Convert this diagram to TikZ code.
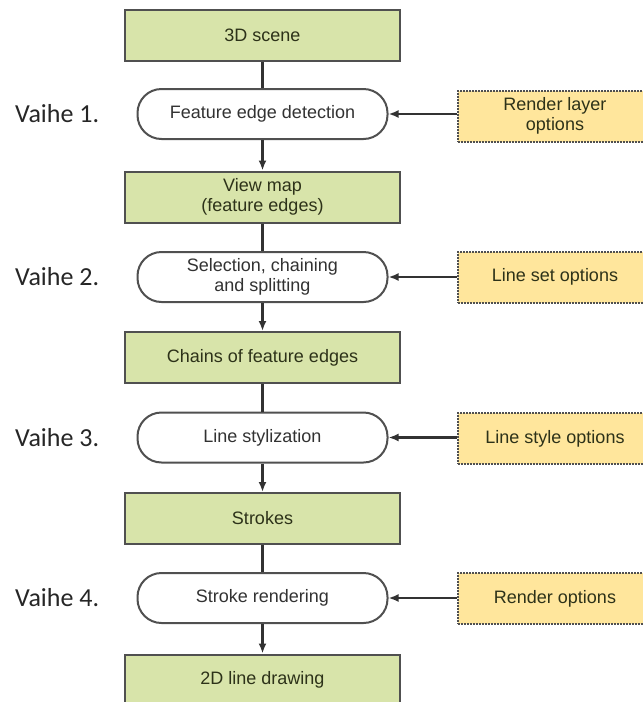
\documentclass[tikz,border=0pt]{standalone}
\usepackage{fontspec}
\setmainfont{Liberation Sans}
\newfontfamily\vaihefont{Carlito}
\usetikzlibrary{arrows.meta}
\tikzset{>={Latex[length=10pt,width=8pt]}}
\definecolor{mygreen}{RGB}{216,228,170}
\definecolor{myyellow}{RGB}{255,230,156}
\definecolor{mygray1}{RGB}{80,80,80}
\definecolor{mygray2}{RGB}{50,50,50}
\definecolor{mytext}{RGB}{45,50,25}
\tikzset{
  databox/.style = {draw=mygray1, line width=2pt, fill=mygreen, minimum width=275, minimum height=51,
                    align=center, text=mytext, font=\fontsize{18}{20}\selectfont},
  phase/.style   = {draw=mygray1, line width=2pt, fill=white, rounded corners=24, minimum width=250,
                    minimum height=50, align=center, text=mygray2, font=\fontsize{18}{20}\selectfont},
  optbox/.style  = {draw=mygray1, densely dotted, line width=2pt, fill=myyellow, minimum width=194,
                    minimum height=51, align=center, text=mytext, font=\fontsize{18}{20}\selectfont},
  vaihe/.style   = {anchor=west, inner sep=0pt, text=black!85, font=\vaihefont\fontsize{26}{28}\selectfont},
  flow/.style    = {draw=mygray2, line width=2.4pt}
}
\begin{document}
\begin{tikzpicture}[x=1pt, y=-1pt]

\useasboundingbox (0,0) rectangle (643,702);
\clip (0,0) rectangle (643,702);

% main column
\node[databox] (scene)    at (262.5, 35.5)  {3D scene};
\node[phase]   (detect)   at (262.5, 114)   {Feature edge detection};
\node[databox] (viewmap)  at (262.5, 197)   {View map\\(feature edges)};
\node[phase]   (chaining) at (262.5, 277)   {Selection, chaining\\and splitting};
\node[databox] (chains)   at (262.5, 357.5) {Chains of feature edges};
\node[phase]   (stylize)  at (262.5, 437.5) {Line stylization};
\node[databox] (strokes)  at (262.5, 518.5) {Strokes};
\node[phase]   (render)   at (262.5, 598)   {Stroke rendering};
\node[databox] (drawing)  at (262.5, 680)   {2D line drawing};

% options
\node[optbox] (layeropt) at (555, 116)   {Render layer\\options};
\node[optbox] (setopt)   at (555, 277)   {Line set options};
\node[optbox] (styleopt) at (555, 438.5) {Line style options};
\node[optbox] (renderopt) at (555, 598.5) {Render options};

% phases
\node[vaihe] (v1) at (15, 114)   {Vaihe 1.};
\node[vaihe] (v2) at (15, 277)   {Vaihe 2.};
\node[vaihe] (v3) at (15, 437.5) {Vaihe 3.};
\node[vaihe] (v4) at (15, 598)   {Vaihe 4.};

\draw[flow] (scene) -- (detect);
\draw[flow, ->] (detect) -- (viewmap);
\draw[flow] (viewmap) -- (chaining);
\draw[flow, ->] (chaining) -- (chains);
\draw[flow] (chains) -- (stylize);
\draw[flow, ->] (stylize) -- (strokes);
\draw[flow] (strokes) -- (render);
\draw[flow, ->] (render) -- (drawing);

\draw[flow, ->] (layeropt.west |- detect.east) -- (detect.east);
\draw[flow, ->] (setopt) -- (chaining);
\draw[flow, ->] (styleopt.west |- stylize.east) -- (stylize.east);
\draw[flow, ->] (renderopt.west |- render.east) -- (render.east);

\end{tikzpicture}
\end{document}
